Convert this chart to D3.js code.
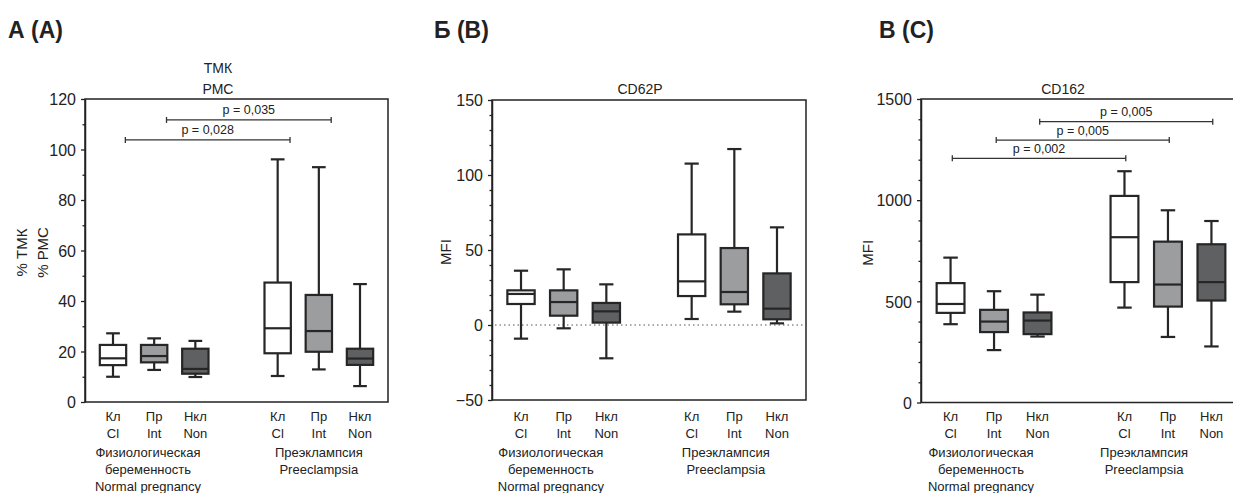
<!DOCTYPE html>
<html>
<head>
<meta charset="utf-8">
<script src="https://cdn.jsdelivr.net/npm/d3@7"></script>
<style>
  html, body { margin: 0; padding: 0; background: #fff; }
  svg { display: block; }
  text { font-family: "Liberation Sans", Arial, Helvetica, sans-serif; fill: #222; }
  .tick text { font-family: "Liberation Sans Narrow", "Liberation Sans", Arial, sans-serif; }
</style>
</head>
<body>
<svg id="fig" width="1233" height="493"></svg>
<script>
// Cell types along the x axis (six boxes: three per group)
const categoriesRu = ["Кл", "Пр", "Нкл", "Кл", "Пр", "Нкл"];
const categoriesEn = ["Cl", "Int", "Non", "Cl", "Int", "Non"];
// slot index of every box on the x axis (slot 3 is the gap between groups)
const slots = [0, 1, 2, 4, 5, 6];
const boxFills = ["#ffffff", "#9c9d9f", "#5f6062", "#ffffff", "#9c9d9f", "#5f6062"];

const groupNormal = ["Физиологическая", "беременность", "Normal pregnancy"];
const groupPreeclampsia = ["Преэклампсия", "Preeclampsia"];

// Box statistics per box: [min, Q1, median, Q3, max]
const tmkStats = [
  [10.0, 14.6, 17.3, 22.6, 27.2],
  [12.7, 15.7, 18.2, 22.6, 25.2],
  [9.9, 11.2, 13.1, 21.1, 24.2],
  [10.3, 19.3, 29.2, 47.3, 96.1],
  [12.9, 19.9, 28.1, 42.4, 93.0],
  [6.3, 14.7, 17.2, 21.1, 46.7]
];
const cd62pStats = [
  [-9.1, 14.0, 20.7, 23.1, 36.2],
  [-2.2, 6.2, 15.3, 23.1, 37.1],
  [-22.2, 1.6, 9.1, 14.7, 27.1],
  [4.0, 19.3, 29.1, 60.4, 107.6],
  [8.9, 13.8, 22.0, 51.3, 117.3],
  [1.1, 3.8, 10.9, 34.4, 65.1]
];
const cd162Stats = [
  [387, 443, 487, 590, 716],
  [259, 348, 400, 458, 550],
  [326, 338, 405, 445, 533],
  [469, 595, 817, 1021, 1143],
  [324, 474, 583, 795, 950],
  [277, 504, 595, 782, 897]
];

// Y axis ticks
const tmkTicks = [0, 20, 40, 60, 80, 100, 120];
const cd62pTicks = [-50, 0, 50, 100, 150];
const cd162Ticks = [0, 500, 1000, 1500];

// Significance brackets: span in slot units, height in data units
const tmkPairs = [
  { from: 1.3, to: 5.3, at: 111.7, label: "p = 0,035" },
  { from: 0.3, to: 4.3, at: 103.8, label: "p = 0,028" }
];
const cd62pPairs = [];
const cd162Pairs = [
  { from: 2.05, to: 6.03, at: 1388, label: "p = 0,005" },
  { from: 1.05, to: 5.03, at: 1297, label: "p = 0,005" },
  { from: 0.04, to: 4.03, at: 1207, label: "p = 0,002" }
];

const panels = [
  {
    letter: "А (A)", letterX: 8,
    title: ["ТМК", "РМС"], titleX: 218,
    yLabel: ["% ТМК", "% РМС"], yLabelX: [27, 48],
    stats: tmkStats, ticks: tmkTicks, minorStep: 10,
    frame: { left: 85, right: 388, top: 99, bottom: 402 },
    pairs: tmkPairs, groupAt: [0.85, 5.0], zeroLine: false
  },
  {
    letter: "Б (B)", letterX: 434,
    title: ["CD62P"], titleX: 640,
    yLabel: ["MFI"], yLabelX: [451],
    stats: cd62pStats, ticks: cd62pTicks, minorStep: 10,
    frame: { left: 492, right: 806, top: 100, bottom: 400 },
    pairs: cd62pPairs, groupAt: [0.7, 4.8], zeroLine: true
  },
  {
    letter: "В (C)", letterX: 879,
    title: ["CD162"], titleX: 1063,
    yLabel: ["MFI"], yLabelX: [873],
    stats: cd162Stats, ticks: cd162Ticks, minorStep: 100,
    frame: { left: 921, right: 1241, top: 99, bottom: 402.5 },
    pairs: cd162Pairs, groupAt: [0.7, 4.45], zeroLine: false
  }
];

const svg = d3.select("#fig");
const ink = "#222";
const slotPad = 0.68;

panels.forEach(p => {
  const f = p.frame;
  const g = svg.append("g");
  const yDomain = [p.ticks[0], p.ticks[p.ticks.length - 1]];
  const y = d3.scaleLinear().domain(yDomain).range([f.bottom, f.top]);
  const x = d3.scaleLinear().domain([-slotPad, 6 + slotPad]).range([f.left, f.right]);
  const step = x(1) - x(0);
  const boxW = step * 0.64;
  const capW = boxW * 0.52;

  // panel letter
  g.append("text").attr("x", p.letterX).attr("y", 38)
    .style("font-size", "23px").style("font-weight", "bold").text(p.letter);

  // title lines, last line sits right above the frame
  p.title.forEach((t, i) => {
    g.append("text").attr("x", p.titleX).attr("y", 94 - (p.title.length - 1 - i) * 21)
      .attr("text-anchor", "middle").style("font-size", "14px").text(t);
  });

  // y label (rotated)
  const cy = (f.top + f.bottom) / 2 + 2;
  p.yLabel.forEach((t, i) => {
    g.append("text").attr("transform", `translate(${p.yLabelX[i]},${cy}) rotate(-90)`)
      .attr("text-anchor", "middle").style("font-size", "15px").text(t);
  });

  // frame
  g.append("rect").attr("x", f.left).attr("y", f.top)
    .attr("width", f.right - f.left).attr("height", f.bottom - f.top)
    .attr("fill", "none").attr("stroke", ink).attr("stroke-width", 1.5);

  // minor ticks
  const minor = d3.range(yDomain[0], yDomain[1] + 1e-9, p.minorStep)
    .filter(v => !p.ticks.includes(v));
  const minorAxis = g.append("g").attr("transform", `translate(${f.left},0)`)
    .call(d3.axisLeft(y).tickValues(minor).tickSize(2.5).tickSizeOuter(0).tickFormat(""));
  minorAxis.select(".domain").remove();
  minorAxis.selectAll("line").attr("stroke", ink).attr("stroke-width", 1.3);

  // major ticks
  const majorAxis = g.append("g").attr("transform", `translate(${f.left},0)`)
    .call(d3.axisLeft(y).tickValues(p.ticks).tickSize(4).tickSizeOuter(0).tickPadding(5)
      .tickFormat(d3.format("d")));
  majorAxis.select(".domain").attr("stroke", ink).attr("stroke-width", 1.5);
  majorAxis.selectAll(".tick line").attr("stroke", ink).attr("stroke-width", 1.3);
  majorAxis.selectAll(".tick text").style("font-size", "16px").attr("fill", ink)
    .attr("dy", "0.36em");

  // dotted zero reference
  if (p.zeroLine) {
    g.append("line").attr("x1", f.left + 3).attr("x2", f.right)
      .attr("y1", y(0)).attr("y2", y(0))
      .attr("stroke", "#555").attr("stroke-width", 1.2).attr("stroke-dasharray", "1.5,3");
  }

  // boxes
  p.stats.forEach((s, i) => {
    const cx = x(slots[i]);
    const [lo, q1, med, q3, hi] = s;
    const b = g.append("g").attr("stroke", "#262626").attr("stroke-width", 2.2);
    b.append("line").attr("x1", cx).attr("x2", cx).attr("y1", y(hi)).attr("y2", y(lo));
    b.append("line").attr("x1", cx - capW / 2).attr("x2", cx + capW / 2).attr("y1", y(hi)).attr("y2", y(hi));
    b.append("line").attr("x1", cx - capW / 2).attr("x2", cx + capW / 2).attr("y1", y(lo)).attr("y2", y(lo));
    b.append("rect").attr("x", cx - boxW / 2).attr("width", boxW)
      .attr("y", y(q3)).attr("height", y(q1) - y(q3)).attr("fill", boxFills[i]);
    b.append("line").attr("x1", cx - boxW / 2).attr("x2", cx + boxW / 2).attr("y1", y(med)).attr("y2", y(med));
  });

  // significance brackets
  p.pairs.forEach(pr => {
    const x1 = x(pr.from), x2 = x(pr.to), yy = y(pr.at);
    const br = g.append("g").attr("stroke", "#333").attr("stroke-width", 1.3);
    br.append("line").attr("x1", x1).attr("x2", x2).attr("y1", yy).attr("y2", yy);
    br.append("line").attr("x1", x1).attr("x2", x1).attr("y1", yy - 3).attr("y2", yy + 3);
    br.append("line").attr("x1", x2).attr("x2", x2).attr("y1", yy - 3).attr("y2", yy + 3);
    g.append("text").attr("x", (x1 + x2) / 2).attr("y", yy - 5.5)
      .attr("text-anchor", "middle").style("font-size", "12.5px").text(pr.label);
  });

  // category labels
  slots.forEach((sl, i) => {
    g.append("text").attr("x", x(sl)).attr("y", 420.5).attr("text-anchor", "middle")
      .style("font-size", "13px").text(categoriesRu[i]);
    g.append("text").attr("x", x(sl)).attr("y", 438).attr("text-anchor", "middle")
      .style("font-size", "13px").text(categoriesEn[i]);
  });

  // group labels
  [groupNormal, groupPreeclampsia].forEach((lines, gi) => {
    lines.forEach((t, li) => {
      g.append("text").attr("x", x(p.groupAt[gi])).attr("y", 456.5 + li * 17.3)
        .attr("text-anchor", "middle").style("font-size", "13px").text(t);
    });
  });
});
</script>
</body>
</html>
